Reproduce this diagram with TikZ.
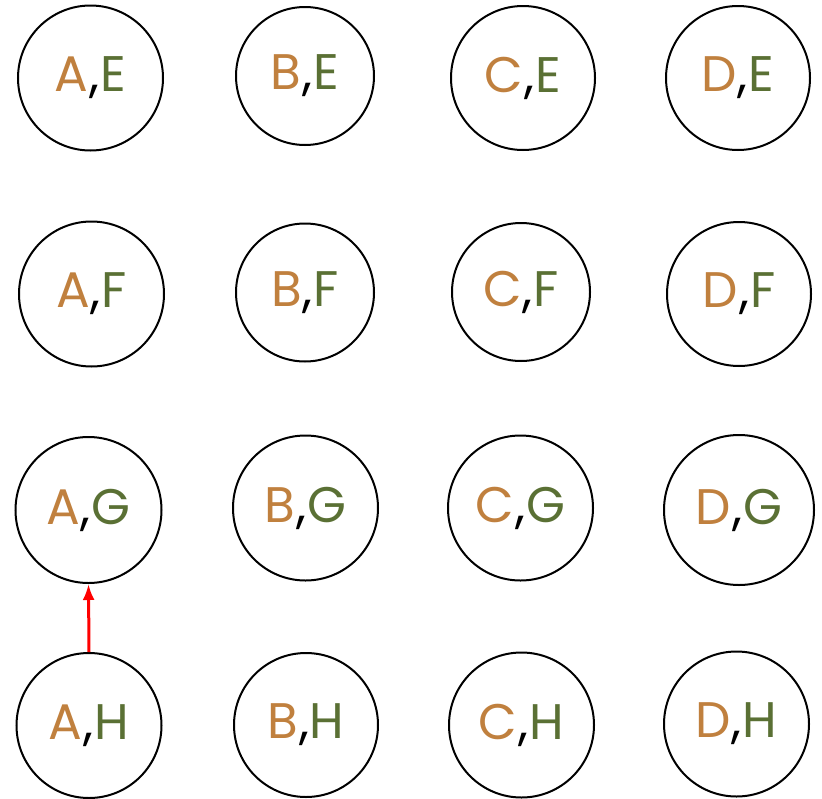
\documentclass[tikz,border=0pt]{standalone}
\usepackage{fontspec}
\setmainfont{Poppins}
\usepackage{tikz}
\usepackage{xcolor}
\usetikzlibrary{positioning, arrows.meta}
\definecolor{cLeft} {HTML}{C0803E}
\definecolor{cRight}{HTML}{5A7034}
\definecolor{cLink} {HTML}{FF0000}

\tikzset{
  pair/.style={circle, draw=black, line width=2pt, inner sep=0pt,
               font=\fontsize{50}{52}\selectfont},
}
\newcommand{\pairtext}[2]{\raisebox{-3pt}{\textcolor{cLeft}{#1}\kern1pt{,}\kern1pt\textcolor{cRight}{#2}}}

\begin{document}
\begin{tikzpicture}[x=1pt, y=-1pt]
  \useasboundingbox (0,0) rectangle (822,798);
  % grid of pairs: x/y/diameter/left/right
  \foreach \cx/\cy/\dd/\l/\r in {
      90.5/78/145/A/E, 305/76/138/B/E, 523/78/144/C/E, 738/78/144/D/E,
      91.5/294/145/A/F, 305/292.5/138/B/F, 521/292/138/C/F, 739/294/144/D/F,
      88.5/510/146/A/G, 305.5/508/145/B/G, 520.5/508/145/C/G, 739/510/150/D/G,
      89/725.5/145/A/H, 306/725/144/B/H, 521.5/725/145/C/H, 736.5/724/145/D/H}
    \node[pair, minimum size=\dd pt] (\l\r) at (\cx,\cy) {\pairtext{\l}{\r}};
  \draw[cLink, line width=3pt, -{Latex[length=16pt, width=12pt]}] (AH.north) -- (AG.south);
\end{tikzpicture}
\end{document}
